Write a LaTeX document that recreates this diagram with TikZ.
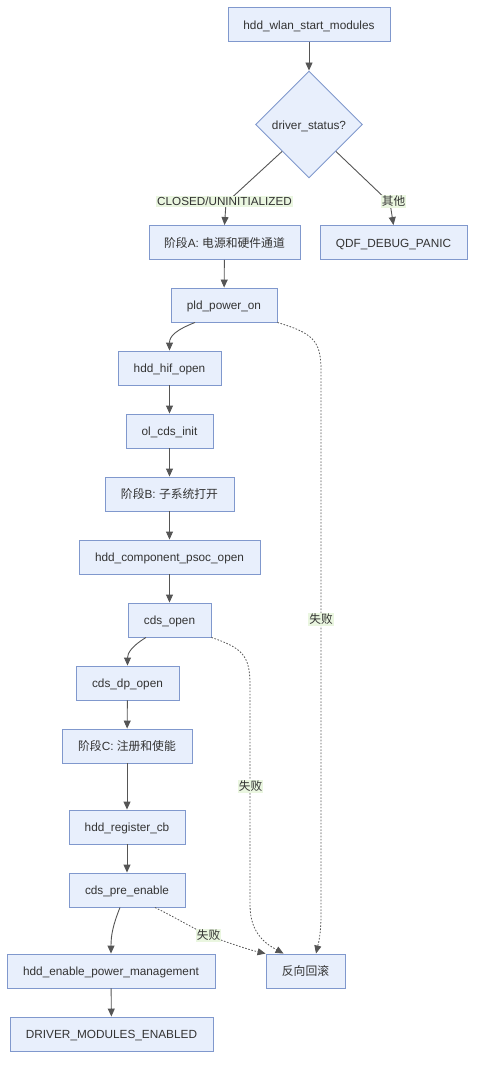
\documentclass[tikz,border=0pt]{standalone}
\usepackage{fontspec}
\setmainfont{Liberation Sans}
\newfontfamily\cjk{Noto Sans CJK SC}
\usetikzlibrary{shapes.geometric,arrows.meta}
\definecolor{nfill}{RGB}{232,239,252}
\definecolor{nedge}{RGB}{128,152,205}
\definecolor{lbg}{RGB}{234,246,224}
\definecolor{tcol}{RGB}{51,51,51}
\definecolor{acol}{RGB}{85,85,85}
\begin{document}
\begin{tikzpicture}[x=1pt,y=-1pt,
  box/.style={draw=nedge, fill=nfill, line width=0.9pt, rectangle, inner sep=0pt,
    minimum height=34pt, text=tcol, font=\fontsize{11.8}{14}\selectfont,
    text height=10.5pt, text depth=1pt},
  dia/.style={draw=nedge, fill=nfill, line width=0.9pt, diamond, aspect=1, inner sep=0pt,
    minimum width=107pt, minimum height=107pt, text=tcol, font=\fontsize{11.8}{14}\selectfont,
    text height=10.5pt, text depth=1pt},
  lbl/.style={fill=lbg, inner sep=1.2pt, text=tcol, font=\fontsize{11.7}{14}\selectfont},
  arr/.style={draw=acol, line width=0.9pt, -{Triangle[length=8pt,width=7pt]}},
  fail/.style={draw=acol, line width=0.8pt, dash pattern=on 1.6pt off 1.6pt, -{Triangle[length=8pt,width=7pt]}}
]
\useasboundingbox (0,0) rectangle (483,1076);

\node[box, minimum width=162pt] (start) at (309,24.5) {hdd\_wlan\_start\_modules};
\node[dia] (ds) at (309,124.5) {driver\_status?};
\node[box, minimum width=151pt] (pa) at (224.5,242.5) {{\cjk 阶段}A: {\cjk 电源和硬件通道}};
\node[box, minimum width=147pt] (panic) at (393.5,242.5) {QDF\_DEBUG\_PANIC};
\node[box, minimum width=106pt] (pld) at (224,305) {pld\_power\_on};
\node[box, minimum width=103pt] (hif) at (169.5,368) {hdd\_hif\_open};
\node[box, minimum width=87pt] (olc) at (169.5,431) {ol\_cds\_init};
\node[box, minimum width=129pt] (pb) at (169.5,494) {{\cjk 阶段}B: {\cjk 子系统打开}};
\node[box, minimum width=181pt] (psoc) at (169.5,557) {hdd\_component\_psoc\_open};
\node[box, minimum width=83pt] (cdso) at (169.5,620) {cds\_open};
\node[box, minimum width=103pt] (dp) at (127.5,683) {cds\_dp\_open};
\node[box, minimum width=130pt] (pc) at (127,746) {{\cjk 阶段}C: {\cjk 注册和使能}};
\node[box, minimum width=116pt] (reg) at (127,827) {hdd\_register\_cb};
\node[box, minimum width=116pt] (pre) at (127,890) {cds\_pre\_enable};
\node[box, minimum width=208pt] (epm) at (111,971) {hdd\_enable\_power\_management};
\node[box, minimum width=79pt] (rb) at (305.5,971) {{\cjk 反向回滚}};
\node[box, minimum width=203pt] (fin) at (111.5,1034) {DRIVER\_MODULES\_ENABLED};

% solid edges
\draw[arr] (start) -- (ds);
\draw[arr] (ds.south west) -- (226,203) -- (pa.north);
\draw[arr] (ds.south east) -- (390,203) -- (panic.north);
\draw[arr] (pa) -- (pld);
\draw[arr] ([xshift=-29pt]pld.south) .. controls (176,330) and (169.5,336) .. (hif.north);
\draw[arr] (hif) -- (olc);
\draw[arr] (olc) -- (pb);
\draw[arr] (pb) -- (psoc);
\draw[arr] (psoc) -- (cdso);
\draw[arr] ([xshift=-23.5pt]cdso.south) .. controls (132,646) and (127.5,653) .. (dp.north);
\draw[arr] (dp) -- (pc);
\draw[arr] (pc) -- (reg);
\draw[arr] (reg) -- (pre);
\draw[arr] ([xshift=-7pt]pre.south) .. controls (113,925) and (111,935) .. (epm.north);
\draw[arr] (epm) -- (fin);

% failure edges
\draw[fail] (pld.south east) .. controls (312,333) and (321,340) .. (321,370)
  -- (321,915) .. controls (321,935) and (318,945) .. ([xshift=10.5pt]rb.north);
\draw[fail] (cdso.south east) .. controls (242,648) and (250,655) .. (250,685)
  -- (250,905) .. controls (250,935) and (268,945) .. ([xshift=-22pt]rb.north);
\draw[fail] ([xshift=28pt]pre.south) .. controls (180,920) and (200,932) .. (208,935)
  .. controls (225,942) and (250,950) .. (rb.north west);

% labels
\node[lbl] at (224.5,201.5) {CLOSED/UNINITIALIZED};
\node[lbl] at (393.5,201.5) {\cjk 其他};
\node[lbl] at (321,619.5) {\cjk 失败};
\node[lbl] at (250.5,786.5) {\cjk 失败};
\node[lbl] at (208.5,935.5) {\cjk 失败};
\end{tikzpicture}
\end{document}
